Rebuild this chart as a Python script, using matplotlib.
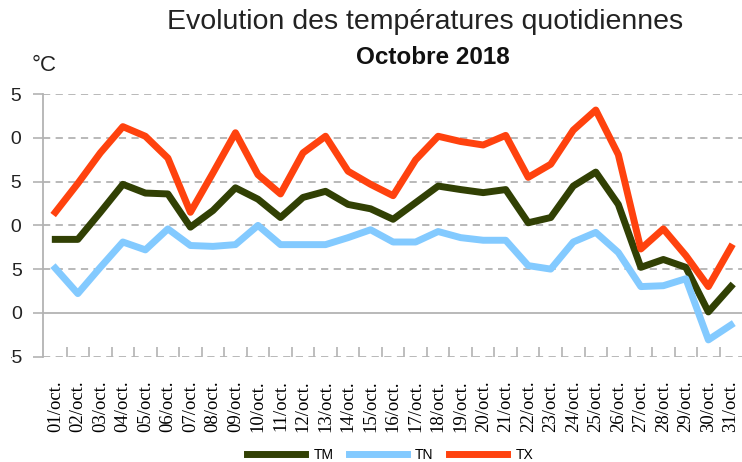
import matplotlib
matplotlib.use('Agg')
import matplotlib.pyplot as plt
from matplotlib.patches import Rectangle

days = ['%02d/oct.' % d for d in range(1, 32)]
tm = [8.4, 8.4, 11.5, 14.7, 13.7, 13.6, 9.8, 11.7, 14.3, 13.0, 10.9, 13.2, 13.9, 12.4, 11.9, 10.7,
      12.6, 14.5, 14.1, 13.75, 14.1, 10.3, 10.9, 14.5, 16.1, 12.4, 5.2, 6.1, 5.2, 0.1, 3.0]
tn = [5.1, 2.2, 5.2, 8.1, 7.2, 9.6, 7.7, 7.6, 7.8, 10.0, 7.8, 7.8, 7.8, 8.6, 9.5, 8.1,
      8.1, 9.3, 8.6, 8.3, 8.3, 5.4, 5.0, 8.1, 9.2, 6.9, 3.0, 3.1, 3.9, -3.1, -1.4]
tx = [11.5, 14.8, 18.3, 21.3, 20.2, 17.7, 11.5, 16.0, 20.6, 15.8, 13.6, 18.3, 20.2, 16.2, 14.7, 13.4,
      17.5, 20.2, 19.6, 19.2, 20.3, 15.5, 17.0, 20.9, 23.2, 18.1, 7.3, 9.6, 6.55, 3.0, 7.5]
yticks = [-5, 0, 5, 10, 15, 20, 25]

W, H = 742, 462
fig = plt.figure(figsize=(W / 100, H / 100), dpi=100)
ax = fig.add_axes([43 / W, 1 - 356.5 / H, (W - 43) / W, (356.5 - 94.3) / H])

x = list(range(1, 32))
ax.plot(x, tm, color='#314004', lw=5, label='TM', zorder=3)
ax.plot(x, tn, color='#83caff', lw=5, label='TN', zorder=3)
ax.plot(x, tx, color='#ff420e', lw=5, label='TX', zorder=3)

grey = '#b3b3b3'
step = 22.52
ax.set_ylim(-5, 25)
ax.set_xlim(1 - 12.3 / step, 1 - 12.3 / step + (W - 43) / step)
ax.set_yticks(yticks)
ax.set_yticklabels([str(v) for v in yticks], fontsize=14, family=['Liberation Sans', 'DejaVu Sans'])
for v in yticks:
    if v == 0:
        ax.axhline(v, color=grey, lw=1.3, zorder=1)
    else:
        ax.axhline(v, color=grey, lw=1.3, ls=(0, (4, 3)), zorder=1)

ax.set_xticks(x)
ax.set_xticklabels(days, rotation=90, fontsize=13.5, family=['Liberation Serif', 'DejaVu Serif'])
ax.set_xticks([k + 0.5 for k in range(1, 31)], minor=True)
ax.tick_params(axis='x', which='major', length=0, pad=17)
ax.tick_params(axis='x', which='minor', direction='in', length=7, color=grey, width=1.2)
ax.tick_params(axis='y', length=7, color=grey, width=1.2, pad=8, labelcolor='#222222')

for s in ['top', 'right', 'bottom']:
    ax.spines[s].set_visible(False)
ax.spines['left'].set_color(grey)
ax.spines['left'].set_linewidth(1.3)

# the reference is cropped on the left edge
fig.patches.append(Rectangle((0, 0), 11 / W, 1, transform=fig.transFigure,
                             facecolor='white', edgecolor='none', zorder=10))

fig.text(425 / W, 1 - 22 / H, 'Evolution des températures quotidiennes', ha='center', va='center',
         fontsize=20.5, family=['Liberation Sans Narrow', 'Liberation Sans', 'DejaVu Sans'], color='#222222')
fig.text(433 / W, 1 - 58 / H, 'Octobre 2018', ha='center', va='center', fontsize=17.5, fontweight='bold',
         family=['Liberation Sans', 'DejaVu Sans'], color='#111111')
fig.text(44 / W, 1 - 65 / H, '°C', ha='center', va='center', fontsize=16,
         family=['Liberation Sans Narrow', 'Liberation Sans', 'DejaVu Sans'], color='#222222')

fig.legend(loc='center', bbox_to_anchor=(390 / W, 1 - 455 / H), ncol=3, frameon=False,
           prop={'family': ['Liberation Sans Narrow', 'Liberation Sans'], 'size': 10},
           handlelength=4.2, handletextpad=0.6, columnspacing=1.1)

fig.savefig('out.png', dpi=100)
